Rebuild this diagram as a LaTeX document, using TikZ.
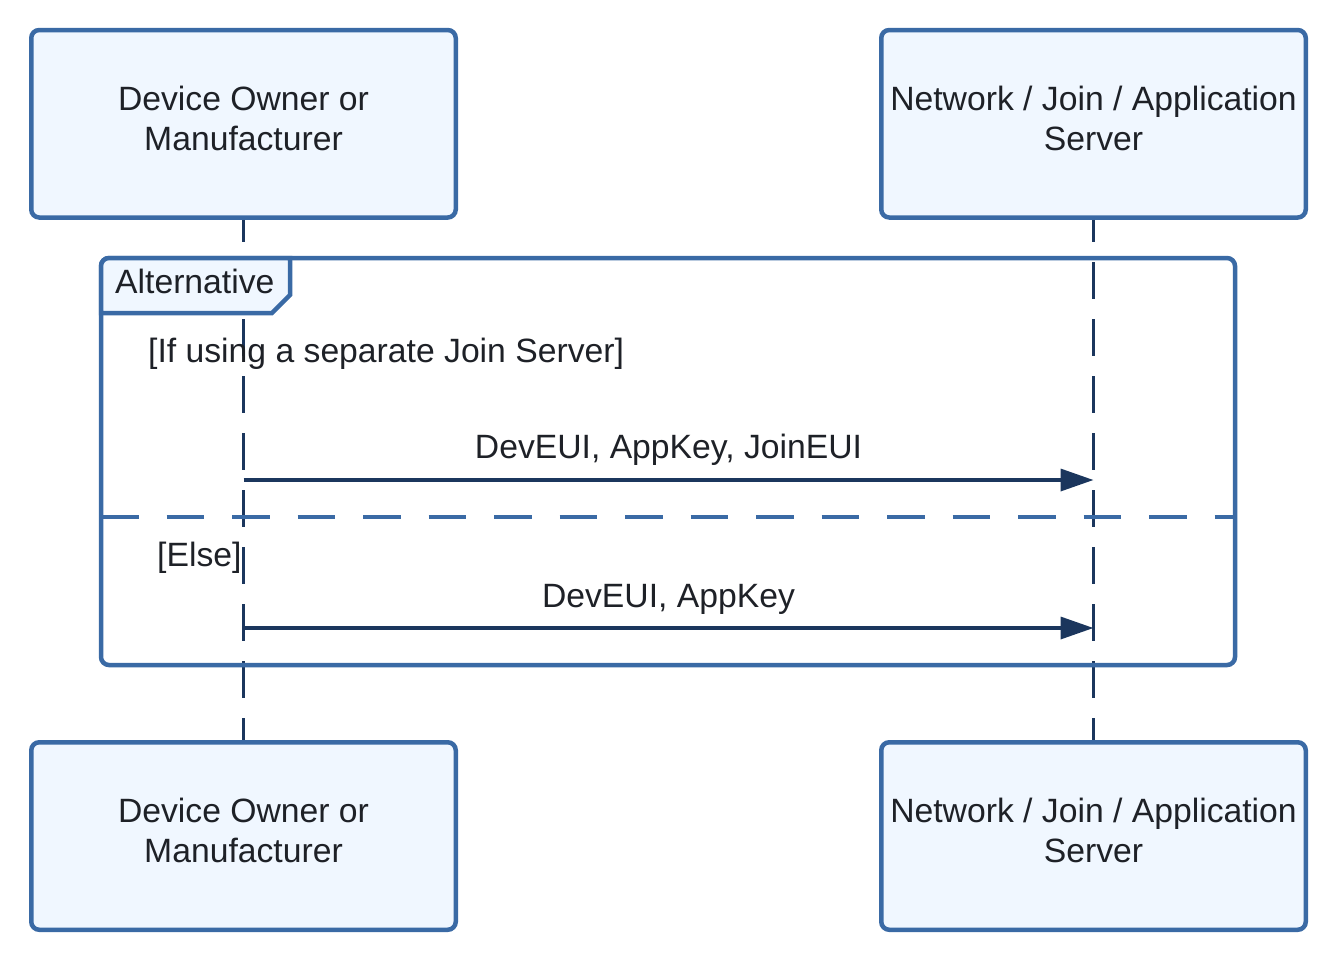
\documentclass[tikz,border=0pt]{standalone}
\usepackage{fontspec}
\setmainfont{Liberation Sans}
\usetikzlibrary{arrows.meta}
\definecolor{bordc}{RGB}{58,106,165}
\definecolor{navyc}{RGB}{27,54,93}
\definecolor{fillc}{RGB}{240,247,255}
\definecolor{textc}{RGB}{30,33,39}
\tikzset{
  actor/.style={draw=bordc, line width=4.5pt, fill=fillc, rounded corners=8pt,
    minimum width=424.5pt, minimum height=187.5pt, align=center, text=textc,
    text depth=10.5pt, font=\fontsize{33.7pt}{40pt}\selectfont},
  lifeline/.style={draw=navyc, line width=3.3pt, dash pattern=on 37pt off 20pt, dash phase=14.75pt},
  framebox/.style={draw=bordc, line width=4.5pt},
  sepline/.style={draw=bordc, line width=4.5pt, dash pattern=on 37.5pt off 28pt},
  msg/.style={draw=navyc, line width=3.5pt, -{Triangle[length=33pt,width=22pt]}},
  txt/.style={text=textc, inner sep=0pt, font=\fontsize{33.7pt}{40pt}\selectfont}
}
\begin{document}
\begin{tikzpicture}[x=1pt,y=-1pt]
\useasboundingbox (0,0) rectangle (1341,962);
% actors
\node[actor] (dtop) at (243.5,123.75) {Device Owner or\\Manufacturer};
\node[actor] (stop) at (1093.5,123.75) {Network / Join / Application\\Server};
\node[actor] (dbot) at (243.5,836) {Device Owner or\\Manufacturer};
\node[actor] (sbot) at (1093.5,836) {Network / Join / Application\\Server};
% lifelines
\draw[lifeline] (dtop.south) -- (dbot.north);
\draw[lifeline] (stop.south) -- (sbot.north);
% frame
\draw[framebox, rounded corners=8pt] (101,258) rectangle (1235,665);
\draw[framebox, fill=fillc] (101,313) [rounded corners=8pt] -- (101,258) [sharp corners] -- (290,258) -- (290,295) -- (272,313) -- cycle;
\node[txt, anchor=west] (alt) at (115,281) {Alternative};
\draw[sepline] (101,517) -- (1235,517);
% guards
\node[txt, anchor=west] (g1) at (148,354) {[If using a separate Join Server]};
\node[txt, anchor=west] (g2) at (157,558) {[Else]};
% messages
\coordinate (m1a) at (243.5,480);
\coordinate (m1b) at (1093.5,480);
\coordinate (m2a) at (243.5,628);
\coordinate (m2b) at (1093.5,628);
\draw[msg] (m1a) -- (m1b);
\draw[msg] (m2a) -- (m2b);
\node[txt] (l1) at (668.5,450) {DevEUI, AppKey, JoinEUI};
\node[txt] (l2) at (668.5,599) {DevEUI, AppKey};
\end{tikzpicture}
\end{document}
